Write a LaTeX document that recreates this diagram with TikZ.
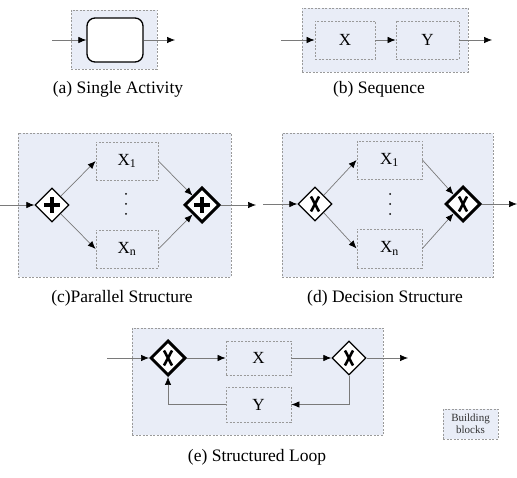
\documentclass[tikz,border=0pt]{standalone}
\usepackage{fontspec}
\setmainfont{Liberation Serif}
\usetikzlibrary{arrows.meta,shapes.geometric}
\definecolor{blockfill}{HTML}{E9EDF7}
\definecolor{dashgray}{HTML}{9A9A9A}
\definecolor{linegray}{HTML}{7A7A7A}
\tikzset{
  block/.style={draw=dashgray, fill=blockfill, dash pattern=on 2pt off 1.5pt, line width=0.8pt, inner sep=0pt},
  taskbox/.style={draw=dashgray, dash pattern=on 2pt off 1.5pt, line width=0.8pt, inner sep=0pt, font=\fontsize{17}{18}\selectfont},
  activity/.style={draw=black, fill=white, line width=1.3pt, rounded corners=8pt, minimum width=56pt, minimum height=44pt},
  gwthin/.style={diamond, draw=black, fill=white, line width=1.3pt, inner sep=0pt, minimum width=34pt, minimum height=34pt},
  gwthick/.style={diamond, draw=black, fill=white, line width=3pt, inner sep=0pt, minimum width=35pt, minimum height=35pt},
  flow/.style={draw=linegray, line width=0.7pt, -{Latex[length=8pt,width=6.5pt,color=black]}},
  caption/.style={font=\fontsize{17.5}{19}\selectfont},
}
\newcommand{\plussign}[1]{%
  \draw[line width=3.2pt] ([xshift=-8pt]#1.center) -- ([xshift=8pt]#1.center);
  \draw[line width=3.2pt] ([yshift=-8pt]#1.center) -- ([yshift=8pt]#1.center);}
\newcommand{\xsign}[1]{%
  \draw[line width=2.6pt] ([xshift=-4pt,yshift=-7.5pt]#1.center) -- ([xshift=4pt,yshift=7.5pt]#1.center);
  \draw[line width=2.6pt] ([xshift=4pt,yshift=-7.5pt]#1.center) -- ([xshift=-4pt,yshift=7.5pt]#1.center);}
\begin{document}
\begin{tikzpicture}[x=1pt,y=-1pt]
\useasboundingbox (0,0) rectangle (517,478);
% (a)
\node[block, minimum width=86pt, minimum height=59pt] (ba) at (114,39.5) {};
\node[activity] (act) at (115,40) {};
\coordinate (ain) at (52,40);
\coordinate (aout) at (175,40);
\draw[flow] (ain) -- (act.west);
\draw[flow] (act.east) -- (aout);
\node[caption] (capa) at (118,89) {(a) Single Activity};
% (b)
\node[block, minimum width=166pt, minimum height=64pt] (bb) at (385,40) {};
\node[taskbox, minimum width=60pt, minimum height=38pt] (bx) at (345,40) {X};
\node[taskbox, minimum width=63pt, minimum height=38pt] (by) at (427.5,40) {Y};
\coordinate (bin) at (281,40);
\coordinate (bout) at (492,40);
\draw[flow] (bin) -- (bx.west);
\draw[flow] (bx.east) -- (by.west);
\draw[flow] (by.east) -- (bout);
\node[caption] (capb) at (379,89) {(b) Sequence};
% (c)
\node[block, minimum width=213pt, minimum height=144pt] (bc) at (124.5,205) {};
\node[taskbox, minimum width=62pt, minimum height=38pt] (cx1) at (127,161) {X\textsubscript{1}};
\node[taskbox, minimum width=62pt, minimum height=38pt] (cxn) at (127,249) {X\textsubscript{n}};
\node[gwthin] (cg1) at (52,205) {};
\node[gwthick] (cg2) at (202,205) {};
\plussign{cg1}
\plussign{cg2}
\foreach \yy in {194,204,214} \fill (126,\yy) circle (1pt);
\coordinate (cin) at (0,205);
\coordinate (cout) at (256,205);
\draw[flow] (cin) -- (cg1.west);
\draw[flow] (cg1.north east) -- (cx1.west);
\draw[flow] (cg1.south east) -- (cxn.west);
\draw[flow] (cx1.east) -- (cg2.north west);
\draw[flow] (cxn.east) -- (cg2.south west);
\draw[flow] (cg2.east) -- (cout);
\node[caption] (capc) at (122,298) {(c)Parallel Structure};
% (d)
\node[block, minimum width=211pt, minimum height=144pt] (bd) at (387.5,205) {};
\node[taskbox, minimum width=65pt, minimum height=38pt] (dx1) at (389.5,160) {X\textsubscript{1}};
\node[taskbox, minimum width=65pt, minimum height=39pt] (dxn) at (389.5,248.5) {X\textsubscript{n}};
\node[gwthin] (dg1) at (315,204) {};
\node[gwthick] (dg2) at (463,204) {};
\xsign{dg1}
\xsign{dg2}
\foreach \yy in {194,204,214} \fill (390,\yy) circle (1pt);
\coordinate (din) at (263,204);
\coordinate (dout) at (517,204);
\draw[flow] (din) -- (dg1.west);
\draw[flow] (dg1.north east) -- (dx1.west);
\draw[flow] (dg1.south east) -- (dxn.west);
\draw[flow] (dx1.east) -- (dg2.north west);
\draw[flow] (dxn.east) -- (dg2.south west);
\draw[flow] (dg2.east) -- (dout);
\node[caption] (capd) at (385,298) {(d) Decision Structure};
% (e)
\node[block, minimum width=251pt, minimum height=107pt] (be) at (257.5,381.5) {};
\node[gwthick] (eg1) at (168,358) {};
\node[gwthin] (eg2) at (349,358) {};
\xsign{eg1}
\xsign{eg2}
\node[taskbox, minimum width=65pt, minimum height=34pt] (ex) at (258.5,358) {X};
\node[taskbox, minimum width=65pt, minimum height=35pt] (ey) at (258.5,404.5) {Y};
\coordinate (ein) at (107,358);
\coordinate (eout) at (408,358);
\draw[flow] (ein) -- (eg1.west);
\draw[flow] (eg1.east) -- (ex.west);
\draw[flow] (ex.east) -- (eg2.west);
\draw[flow] (eg2.east) -- (eout);
\draw[flow] (eg2.south) |- (ey.east);
\draw[flow] (ey.west) -| (eg1.south);
\node[caption] (cape) at (257,457) {(e) Structured Loop};
% legend
\node[block, minimum width=55pt, minimum height=30pt, align=center, font=\fontsize{11}{12}\selectfont, text=black!80] (legend) at (470.5,424) {Building\\blocks};
\end{tikzpicture}
\end{document}
